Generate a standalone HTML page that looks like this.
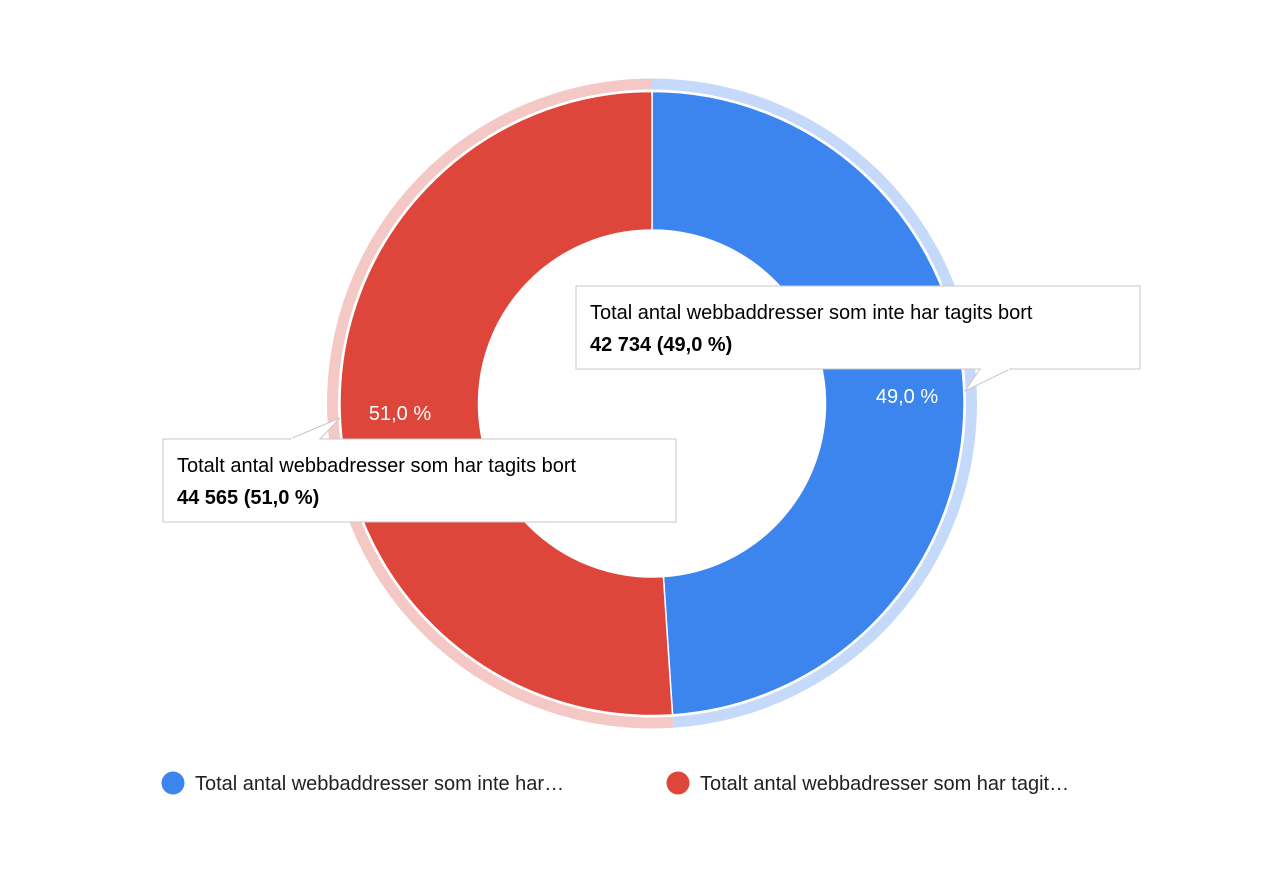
<!DOCTYPE html>
<html><head><meta charset="utf-8"><style>
body{margin:0;background:#fff;font-family:"Liberation Sans",Arial,sans-serif;}
svg text{font-family:"Liberation Sans",Arial,sans-serif;}
</style></head><body>
<svg id="chart" width="1280" height="887">
<g id="slices"></g>
<g id="labels"></g>
<g id="tips"></g>
<g id="legend"></g>
</svg>
<script>
const categories=["Total antal webbaddresser som inte har tagits bort","Totalt antal webbadresser som har tagits bort"];
const values=[42734,44565];
const legendLabels=["Total antal webbaddresser som inte har…","Totalt antal webbadresser som har tagit…"];
const colors=["#3d85ee","#de463b"];
const lightColors=["#c5dafa","#f4c8c5"];
const NS="http://www.w3.org/2000/svg";
const cx=652,cy=403.5,R=312,r=173.5,HR0=314,HR1=325;
const total=values.reduce((a,b)=>a+b,0);
function pt(a,rad){return [cx+rad*Math.sin(a),cy-rad*Math.cos(a)];}
function arc(a0,a1,ro,ri){const l=(a1-a0)>Math.PI?1:0;const p0=pt(a0,ro),p1=pt(a1,ro),p2=pt(a1,ri),p3=pt(a0,ri);
return `M${p0} A${ro},${ro} 0 ${l} 1 ${p1} L${p2} A${ri},${ri} 0 ${l} 0 ${p3}Z`;}
function mk(tag,attrs,parent){const e=document.createElementNS(NS,tag);for(const k in attrs)e.setAttribute(k,attrs[k]);parent.appendChild(e);return e;}
const gS=document.getElementById('slices'),gL=document.getElementById('labels'),gT=document.getElementById('tips'),gG=document.getElementById('legend');
let a=0;const mids=[];
values.forEach((v,i)=>{const a1=a+v/total*2*Math.PI;
 const h=mk('path',{d:arc(a,a1,HR1,HR0),fill:lightColors[i]},gS);
 
 
 const p=mk('path',{d:arc(a,a1,R,r),fill:colors[i],stroke:'#fff','stroke-width':1.5},gS);
 
 
 mids.push((a+a1)/2);a=a1;});
// percentage labels
const labelPos=[[907,403],[400,420]];
values.forEach((v,i)=>{const t=mk('text',{x:labelPos[i][0],y:labelPos[i][1],fill:'#fff','font-size':20,'text-anchor':'middle'},gL);
 t.textContent=(v/total*100).toFixed(1).replace('.',',')+' %';
 
 });
// tooltips
const tipBoxes=[[576,286,564,83,[[965,391],[980,369],[1010,369]]],[163,439,513,83,[[340,418],[290,439],[320,439]]]];
values.forEach((v,i)=>{const [x,y,w,h,tri]=tipBoxes[i];
 const g=mk('g',{},gT);
 
 
 mk('rect',{x:x,y:y,width:w,height:h,fill:'#fff',stroke:'#c8c8c8','stroke-width':1,filter:''},g);
 mk('polygon',{points:tri.map(p=>p.join(',')).join(' '),fill:'#fff',stroke:'#c8c8c8'},g);
 mk('line',{x1:tri[1][0]+1,y1:tri[1][1],x2:tri[2][0]-1,y2:tri[2][1],stroke:'#fff','stroke-width':2},g);
 const t1=mk('text',{x:x+14,y:y+33,'font-size':20,fill:'#000'},g);t1.textContent=categories[i];
 const t2=mk('text',{x:x+14,y:y+65,'font-size':20,'font-weight':'bold',fill:'#000'},g);
 t2.textContent=v.toLocaleString('en-US').replace(/,/g,' ')+' ('+(v/total*100).toFixed(1).replace('.',',')+' %)';});
// legend
const legX=[173,678];
values.forEach((v,i)=>{const g=mk('g',{},gG);
 
 
 mk('circle',{cx:legX[i],cy:783,r:11.5,fill:colors[i]},g);
 const t=mk('text',{x:legX[i]+22,y:790,'font-size':20,fill:'#222'},g);t.textContent=legendLabels[i];});
</script>
</body></html>
